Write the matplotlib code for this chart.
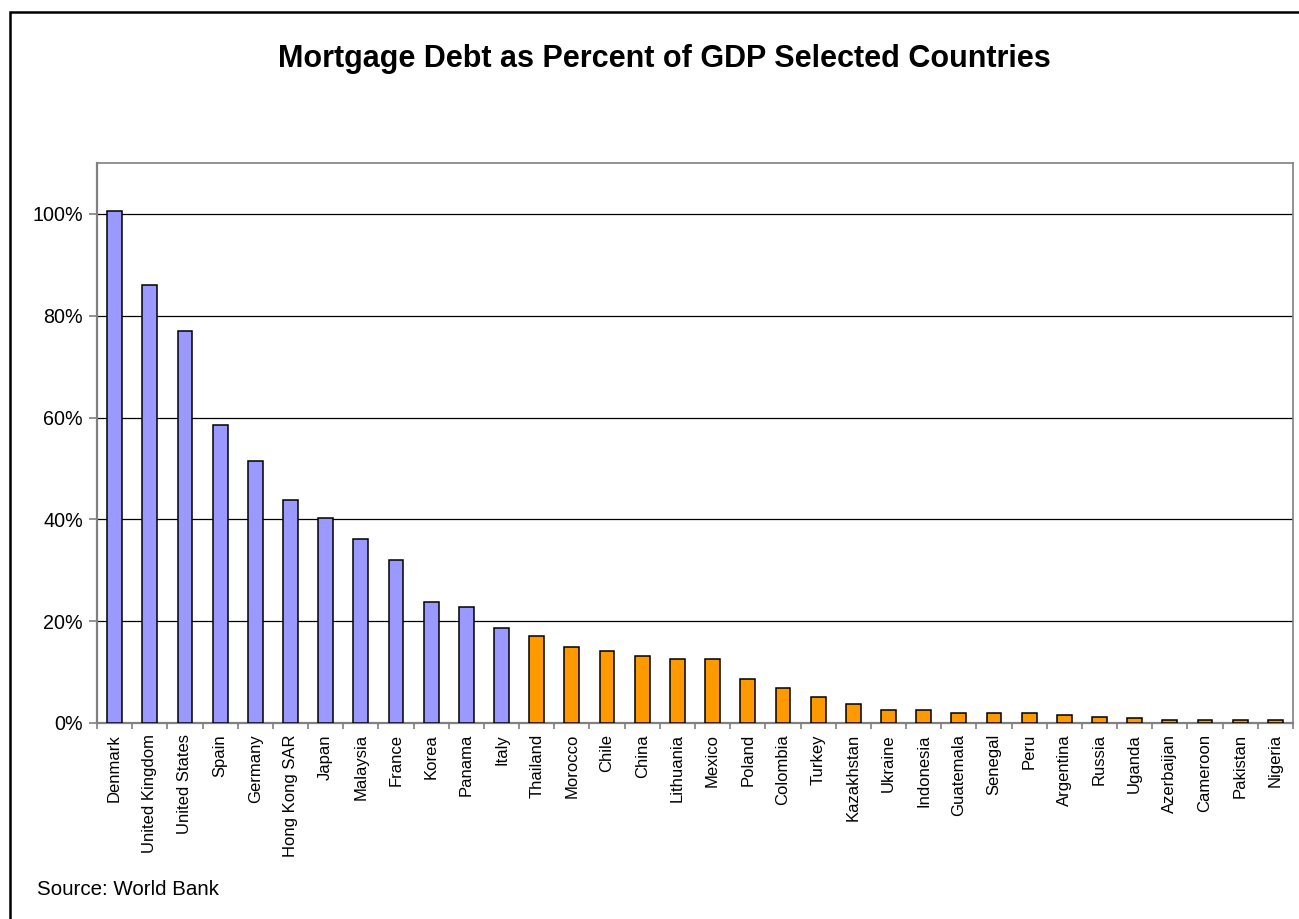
import matplotlib
matplotlib.use("Agg")
import matplotlib.pyplot as plt
from matplotlib.patches import Rectangle
from matplotlib.ticker import FuncFormatter, FixedLocator
import numpy as np

plt.rcParams['font.family'] = ['Liberation Sans', 'DejaVu Sans']

countries = ["Denmark", "United Kingdom", "United States", "Spain", "Germany",
             "Hong Kong SAR", "Japan", "Malaysia", "France", "Korea", "Panama",
             "Italy", "Thailand", "Morocco", "Chile", "China", "Lithuania",
             "Mexico", "Poland", "Colombia", "Turkey", "Kazakhstan", "Ukraine",
             "Indonesia", "Guatemala", "Senegal", "Peru", "Argentina", "Russia",
             "Uganda", "Azerbaijan", "Cameroon", "Pakistan", "Nigeria"]
values = [100.6, 86.0, 77.0, 58.6, 51.4, 43.9, 40.2, 36.2, 32.0, 23.7, 22.8,
          18.7, 17.1, 15.0, 14.1, 13.2, 12.6, 12.6, 8.6, 6.9, 5.1, 3.75, 2.6,
          2.6, 2.0, 2.0, 2.0, 1.6, 1.25, 1.0, 0.66, 0.66, 0.66, 0.66]
developed = ["Denmark", "United Kingdom", "United States", "Spain", "Germany",
             "Hong Kong SAR", "Japan", "Malaysia", "France", "Korea", "Panama",
             "Italy"]
yticks = [0, 20, 40, 60, 80, 100]

W, H = 1299, 919
fig = plt.figure(figsize=(W / 100, H / 100), dpi=100)
fig.patch.set_facecolor('white')

# outer border (right and bottom edges fall outside the picture)
fig.add_artist(Rectangle((10 / W, -0.01), 1.0, (H - 12) / H + 0.01, transform=fig.transFigure,
                         fill=False, edgecolor='black', linewidth=1.8))

left, right, top, bottom = 97, 1293, 163, 723
ax = fig.add_axes([left / W, 1 - bottom / H, (right - left) / W, (bottom - top) / H])

x = np.arange(len(countries))
colors = ['#9999FF' if c in developed else '#FF9900' for c in countries]
ax.bar(x, values, width=0.42, color=colors, edgecolor='black', linewidth=1.1, zorder=3)

ax.set_xlim(-0.5, len(countries) - 0.5)
ax.set_ylim(0, 110)
ax.set_yticks(yticks)
ax.yaxis.set_major_formatter(FuncFormatter(lambda v, p: f"{int(v)}%"))
ax.grid(axis='y', color='black', linewidth=0.9, zorder=0)
ax.set_xticks(x)
ax.set_xticklabels(countries, rotation=90, fontsize=12)
ax.tick_params(axis='x', length=0, pad=8)
ax.xaxis.set_minor_locator(FixedLocator(np.arange(-0.5, len(countries), 1.0)))
ax.tick_params(axis='x', which='minor', length=4, width=1.2, color='#808080', direction='out')
ax.tick_params(axis='y', labelsize=14.2, length=6, width=1.2, color='#808080', pad=4)

for s in ['top', 'right']:
    ax.spines[s].set_color('#808080')
    ax.spines[s].set_linewidth(1.2)
for s in ['left', 'bottom']:
    ax.spines[s].set_color('#808080')
    ax.spines[s].set_linewidth(1.6)

fig.text(664.5 / W, 1 - 67 / H, "Mortgage Debt as Percent of GDP Selected Countries",
         ha='center', va='baseline', fontsize=22, fontweight='bold')
fig.text(37 / W, 1 - 895 / H, "Source: World Bank", ha='left', va='baseline', fontsize=14.8)

fig.savefig("out.png", dpi=100)
